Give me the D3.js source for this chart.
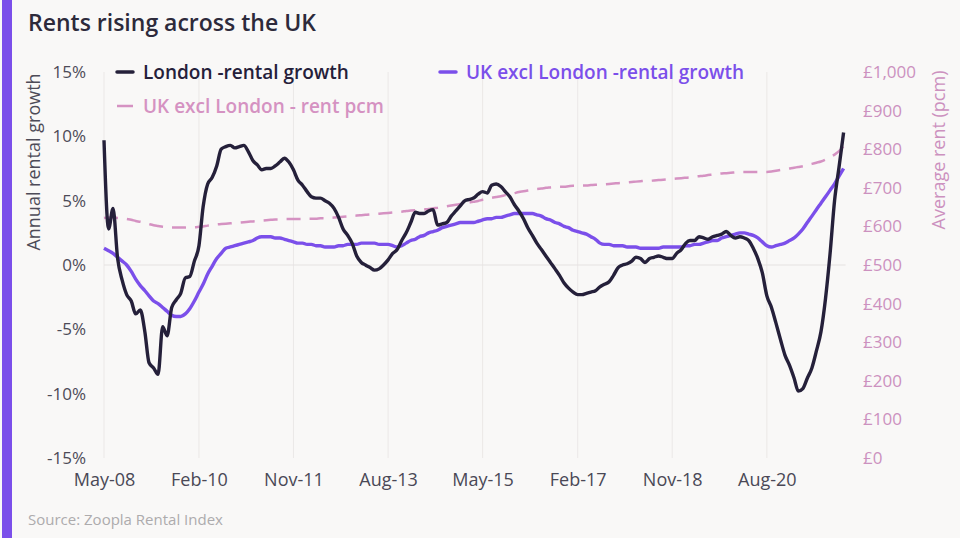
<!DOCTYPE html>
<html>
<head>
<meta charset="utf-8">
<script src="https://cdn.jsdelivr.net/npm/d3@7"></script>
<style>
  html, body { margin: 0; padding: 0; background: #ffffff; }
  svg { display: block; font-family: "Open Sans", "Lato", sans-serif; }
</style>
</head>
<body>
<svg id="chart" width="960" height="544"></svg>
<script>
// ---------- DATA ----------
const startMonth = new Date(2008, 4, 1);   // May-08
const endMonth = new Date(2022, 1, 1);     // exclusive (last = Jan-22)
const months = d3.timeMonth.range(startMonth, endMonth);

const tickLabels = ["May-08", "Feb-10", "Nov-11", "Aug-13", "May-15", "Feb-17", "Nov-18", "Aug-20"];
const tickMonthIndex = [0, 21, 42, 63, 84, 105, 126, 147];

const leftTicks = [-15, -10, -5, 0, 5, 10, 15];
const rightTicks = [0, 100, 200, 300, 400, 500, 600, 700, 800, 900, 1000];

// London - annual rental growth (%)
const londonGrowth = [
  9.7, 2.8, 4.4, 0.5, -1.2, -2.3, -2.8, -3.8, -3.5, -5.2,
  -7.6, -8.0, -8.5, -4.8, -5.5, -3.3, -2.7, -2.2, -1.0, -0.9,
  0.3, 1.5, 4.5, 6.3, 6.8, 7.7, 9.0, 9.2, 9.3, 9.1,
  9.2, 9.3, 8.8, 8.1, 7.8, 7.4, 7.5, 7.5, 7.7, 8.0,
  8.3, 8.0, 7.4, 6.6, 6.2, 5.7, 5.3, 5.2, 5.2, 5.0,
  4.8, 4.4, 3.7, 2.8, 2.3, 1.7, 0.7, 0.2, 0.0, -0.2,
  -0.4, -0.3, 0.0, 0.4, 0.9, 1.2, 1.9, 2.5, 3.3, 4.1,
  4.0, 4.0, 4.2, 4.3, 3.1, 3.2, 3.3, 3.8, 4.2, 4.6,
  5.0, 5.1, 5.2, 5.5, 5.7, 5.6, 6.2, 6.3, 6.1, 5.7,
  5.3, 4.7, 4.2, 3.6, 2.9, 2.3, 1.7, 1.2, 0.7, 0.2,
  -0.3, -0.8, -1.4, -1.8, -2.1, -2.3, -2.3, -2.2, -2.1, -2.0,
  -1.7, -1.5, -1.3, -0.8, -0.2, 0.0, 0.1, 0.3, 0.6, 0.5,
  0.2, 0.5, 0.6, 0.7, 0.6, 0.5, 0.5, 0.9, 1.2, 1.7,
  1.9, 1.9, 2.2, 2.1, 2.0, 2.2, 2.3, 2.4, 2.6, 2.3,
  2.1, 2.2, 2.1, 1.9, 1.3, 0.5, -0.6, -2.4, -3.3, -4.5,
  -5.8, -7.0, -7.8, -8.8, -9.8, -9.6, -8.8, -8.0, -6.7, -5.2,
  -2.6, 0.8, 5.0, 7.6, 10.3
];

// UK excluding London - annual rental growth (%)
const ukExLondonGrowth = [
  1.3, 1.1, 0.9, 0.6, 0.3, 0.0, -0.5, -1.1, -1.6, -2.0,
  -2.4, -2.8, -3.0, -3.3, -3.6, -3.9, -4.0, -4.0, -3.8, -3.4,
  -2.8, -2.1, -1.5, -0.7, -0.1, 0.5, 0.9, 1.3, 1.4, 1.5,
  1.6, 1.7, 1.8, 1.9, 2.1, 2.2, 2.2, 2.2, 2.1, 2.1,
  2.0, 1.9, 1.8, 1.7, 1.7, 1.6, 1.6, 1.5, 1.5, 1.4,
  1.4, 1.4, 1.5, 1.5, 1.6, 1.6, 1.6, 1.7, 1.7, 1.7,
  1.7, 1.6, 1.6, 1.6, 1.5, 1.4, 1.5, 1.7, 1.9, 2.0,
  2.2, 2.3, 2.5, 2.6, 2.7, 2.9, 3.0, 3.1, 3.2, 3.3,
  3.3, 3.3, 3.3, 3.4, 3.5, 3.6, 3.6, 3.7, 3.7, 3.8,
  3.9, 4.0, 4.0, 4.0, 4.0, 4.0, 3.9, 3.8, 3.6, 3.5,
  3.3, 3.2, 3.0, 2.9, 2.7, 2.6, 2.5, 2.4, 2.2, 2.0,
  1.7, 1.6, 1.6, 1.5, 1.5, 1.5, 1.4, 1.4, 1.4, 1.3,
  1.3, 1.3, 1.3, 1.3, 1.4, 1.4, 1.4, 1.4, 1.4, 1.5,
  1.5, 1.6, 1.6, 1.7, 1.8, 1.9, 1.9, 2.1, 2.2, 2.3,
  2.4, 2.5, 2.5, 2.4, 2.3, 2.1, 1.8, 1.5, 1.4, 1.5,
  1.6, 1.7, 1.9, 2.1, 2.4, 2.8, 3.3, 3.8, 4.3, 4.8,
  5.3, 5.8, 6.3, 6.9, 7.5
];

// UK excluding London - average rent (GBP pcm)
const ukExLondonRent = [
  622, 623, 623, 622, 621, 619, 617, 614, 612, 609,
  606, 603, 601, 599, 598, 597, 597, 597, 597, 598,
  598, 599, 600, 602, 603, 605, 606, 607, 608, 609,
  610, 611, 612, 613, 614, 615, 616, 617, 618, 618,
  619, 619, 619, 619, 619, 620, 620, 620, 621, 621,
  622, 623, 624, 625, 626, 627, 628, 629, 630, 631,
  632, 633, 634, 635, 636, 637, 638, 640, 641, 642,
  643, 644, 645, 647, 648, 650, 652, 654, 656, 658,
  660, 662, 664, 666, 669, 671, 674, 676, 678, 681,
  683, 686, 689, 691, 693, 695, 697, 698, 700, 701,
  702, 703, 703, 704, 705, 705, 706, 706, 707, 708,
  708, 709, 710, 711, 712, 713, 714, 715, 716, 717,
  718, 718, 719, 720, 721, 722, 723, 724, 725, 726,
  727, 729, 730, 731, 733, 734, 736, 737, 738, 739,
  740, 741, 741, 741, 741, 741, 741, 741, 742, 744,
  746, 748, 750, 752, 754, 756, 759, 762, 765, 768,
  773, 779, 786, 795, 808
];

const legendItems = [
  { label: "London -rental growth", color: "#25203a", dashed: false, x: 117, y: 72 },
  { label: "UK excl London -rental growth", color: "#7b4fea", dashed: false, x: 440, y: 72 },
  { label: "UK excl London - rent pcm", color: "#d592c2", dashed: true, x: 117, y: 106 }
];

// ---------- LAYOUT ----------
const svg = d3.select("#chart");
const W = 960, H = 544;
const plot = { left: 104, right: 843.6, top: 72, bottom: 458 };

svg.append("rect").attr("width", W).attr("height", H).attr("fill", "#ffffff");
svg.append("rect").attr("x", 0).attr("y", 0).attr("width", W).attr("height", 538).attr("fill", "#f9f8f7");
svg.append("rect").attr("x", 2).attr("y", 0).attr("width", 10).attr("height", 538).attr("fill", "#7b4fea");

const x = d3.scaleTime().domain([months[0], months[months.length - 1]]).range([plot.left, plot.right]);
const yL = d3.scaleLinear().domain([-15, 15]).range([plot.bottom, plot.top]);
const yR = d3.scaleLinear().domain([0, 1000]).range([plot.bottom, plot.top]);

const tickDates = tickMonthIndex.map(i => months[i]);

// Gridlines (vertical at category labels)
svg.append("g").selectAll("line").data(tickDates).join("line")
  .attr("x1", d => x(d)).attr("x2", d => x(d))
  .attr("y1", plot.top).attr("y2", plot.bottom)
  .attr("stroke", "#ebe8e7").attr("stroke-width", 1);

// Zero line
svg.append("line")
  .attr("x1", plot.left).attr("x2", plot.right + 2)
  .attr("y1", yL(0)).attr("y2", yL(0))
  .attr("stroke", "#e6e2e1").attr("stroke-width", 1.2);

// Title
svg.append("text").attr("x", 28).attr("y", 31)
  .attr("font-size", 23).attr("font-weight", 600).attr("fill", "#2d2a3b")
  .text("Rents rising across the UK");

// Left axis
const axL = d3.axisLeft(yL).tickValues(leftTicks).tickFormat(d => d + "%").tickSize(0).tickPadding(4);
const gL = svg.append("g").attr("transform", "translate(90,0)").call(axL);
gL.select(".domain").remove();
gL.selectAll("text").attr("font-size", 17).attr("fill", "#4d4b57").attr("font-family", "'Open Sans', sans-serif");

// Right axis
const axR = d3.axisRight(yR).tickValues(rightTicks).tickFormat(d => "£" + d3.format(",")(d)).tickSize(0).tickPadding(4);
const gR = svg.append("g").attr("transform", "translate(859,0)").call(axR);
gR.select(".domain").remove();
gR.selectAll("text").attr("font-size", 17).attr("fill", "#cc91bf").attr("font-family", "'Open Sans', sans-serif");

// Bottom axis
const axB = d3.axisBottom(x).tickValues(tickDates).tickFormat((d, i) => tickLabels[i]).tickSize(0).tickPadding(15);
const gB = svg.append("g").attr("transform", `translate(0,${plot.bottom})`).call(axB);
gB.select(".domain").remove();
gB.selectAll("text").attr("font-size", 18).attr("fill", "#4a4856").attr("font-family", "'Open Sans', sans-serif");

// Axis titles
svg.append("text")
  .attr("transform", "translate(40,162) rotate(-90)")
  .attr("text-anchor", "middle").attr("font-size", 18).attr("fill", "#4d4b57")
  .text("Annual rental growth");
svg.append("text")
  .attr("transform", "translate(945,150) rotate(-90)")
  .attr("text-anchor", "middle").attr("font-size", 18).attr("fill", "#cc91bf")
  .text("Average rent (pcm)");

// Lines
const rentLine = d3.line().x((d, i) => x(months[i])).y(d => yR(d)).curve(d3.curveMonotoneX);
const growthLine = d3.line().x((d, i) => x(months[i])).y(d => yL(d)).curve(d3.curveMonotoneX);

svg.append("path").datum(ukExLondonRent)
  .attr("d", rentLine).attr("fill", "none")
  .attr("stroke", "#d592c2").attr("stroke-width", 2.5)
  .attr("stroke-dasharray", "14,9");

svg.append("path").datum(ukExLondonGrowth)
  .attr("d", growthLine).attr("fill", "none")
  .attr("stroke", "#7b4fea").attr("stroke-width", 3.4).attr("stroke-linejoin", "round");

svg.append("path").datum(londonGrowth)
  .attr("d", growthLine).attr("fill", "none")
  .attr("stroke", "#25203a").attr("stroke-width", 3.4).attr("stroke-linejoin", "round");

// Legend
const lg = svg.append("g").selectAll("g").data(legendItems).join("g")
  .attr("transform", d => `translate(${d.x},${d.y})`);
lg.append("line").attr("x1", 0).attr("x2", 16).attr("y1", 0).attr("y2", 0)
  .attr("stroke", d => d.color).attr("stroke-width", d => d.dashed ? 2.5 : 3.5)
  .attr("stroke-linecap", d => d.dashed ? "butt" : "round");
lg.append("text").attr("x", 26).attr("y", 0).attr("dy", "0.35em")
  .attr("font-size", 19).attr("font-weight", 600)
  .attr("fill", d => d.color)
  .text(d => d.label);

// Source
svg.append("text").attr("x", 28).attr("y", 525)
  .attr("font-size", 15).attr("fill", "#adabad")
  .text("Source: Zoopla Rental Index");
</script>
</body>
</html>
